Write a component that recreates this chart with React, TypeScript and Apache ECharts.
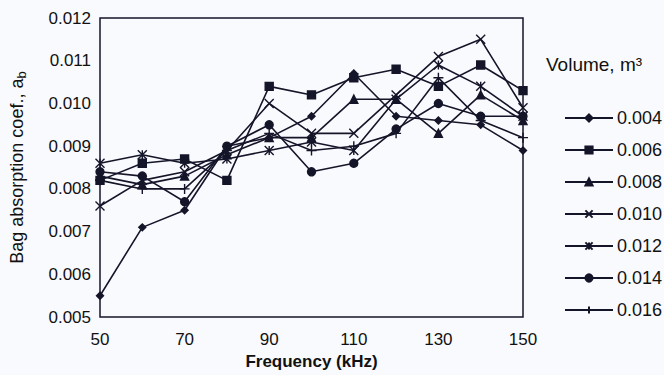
import React, { useEffect, useRef } from "react";
import * as echarts from "echarts";

const frequencies = [50, 60, 70, 80, 90, 100, 110, 120, 130, 140, 150];
const volumes = ["0.004", "0.006", "0.008", "0.010", "0.012", "0.014", "0.016"];
const v004 = [0.0055, 0.0071, 0.0075, 0.009, 0.0092, 0.0097, 0.0107, 0.0097, 0.0096, 0.0095, 0.0089];
const v006 = [0.0082, 0.0086, 0.0087, 0.0082, 0.0104, 0.0102, 0.0106, 0.0108, 0.0104, 0.0109, 0.0103];
const v008 = [0.0083, 0.0081, 0.0083, 0.0088, 0.0092, 0.0092, 0.0101, 0.0101, 0.0093, 0.0102, 0.0096];
const v010 = [0.0076, 0.0082, 0.0084, 0.0089, 0.01, 0.0093, 0.0093, 0.0102, 0.0111, 0.0115, 0.0099];
const v012 = [0.0086, 0.0088, 0.0086, 0.0087, 0.0089, 0.0091, 0.0089, 0.0101, 0.0109, 0.0104, 0.0097];
const v014 = [0.0084, 0.0083, 0.0077, 0.009, 0.0095, 0.0084, 0.0086, 0.0094, 0.01, 0.0097, 0.0097];
const v016 = [0.0082, 0.008, 0.008, 0.0089, 0.0093, 0.0089, 0.009, 0.0093, 0.0106, 0.0096, 0.0092];
const seriesValues = [v004, v006, v008, v010, v012, v014, v016];

const symbols = [
  "diamond",
  "rect",
  "triangle",
  "path://M0,0L10,10M10,0L0,10",
  "path://M0,0L10,10M10,0L0,10M5,0L5,10",
  "circle",
  "path://M5,0L5,10M0,5L10,5",
];
const symbolSizes = [7, 8, 8, 9, 9, 8, 10];

export default function App() {
  const ref = useRef<HTMLDivElement>(null);
  useEffect(() => {
    const chart = echarts.init(ref.current!, null, { renderer: "svg" });
    const ink = "#15152a";
    chart.setOption({
      animation: false,
      backgroundColor: "#f9fafd",
      textStyle: { fontFamily: "Liberation Sans" },
      grid: {
        left: 97,
        right: 141,
        top: 18,
        bottom: 51,
        show: true,
        borderColor: ink,
        borderWidth: 1.5,
        backgroundColor: "transparent",
      },
      legend: {
        orient: "vertical",
        left: 559,
        top: 104,
        itemWidth: 48,
        itemHeight: 9,
        itemGap: 14,
        textStyle: { fontSize: 18, color: "#111", fontFamily: "Liberation Sans", padding: [0, 0, 0, -1] },
        data: volumes,
      },
      graphic: [
        {
          type: "text",
          left: 546,
          top: 55,
          style: {
            text: "Volume, m³",
            fontSize: 19,
            fill: "#111",
            fontFamily: "Liberation Sans",
          },
        },
      ],
      xAxis: {
        type: "value",
        min: 50,
        max: 150,
        interval: 10,
        name: "Frequency (kHz)",
        nameLocation: "middle",
        nameGap: 33,
        nameTextStyle: { fontSize: 17, fontWeight: "bold", color: "#111" },
        axisLine: { show: false },
        axisTick: { show: false },
        splitLine: { show: false },
        axisLabel: {
          fontSize: 17,
          color: "#111",
          margin: 14,
          showMinLabel: true,
          showMaxLabel: true,
          formatter: (v: number) => ((Math.round(v) - 50) % 20 === 0 ? String(Math.round(v)) : ""),
        },
      },
      yAxis: {
        type: "value",
        min: 0.005,
        max: 0.012,
        interval: 0.001,
        name: "Bag absorption coef., a{sub|b}",
        nameLocation: "middle",
        nameGap: 72,
        nameTextStyle: {
          fontSize: 18,
          color: "#111",
          rich: { sub: { fontSize: 13, padding: [9, 0, 0, 0], color: "#111" } },
        },
        axisLine: { show: false },
        axisTick: { show: false },
        splitLine: { show: false },
        axisLabel: {
          fontSize: 17,
          color: "#111",
          margin: 9,
          formatter: (v: number) => v.toFixed(3),
        },
      },
      series: volumes.map((name, i) => ({
        name,
        type: "line",
        data: frequencies.map((f, j) => [f, seriesValues[i][j]]),
        symbol: symbols[i],
        symbolSize: symbolSizes[i],
        showAllSymbol: true,
        lineStyle: { color: ink, width: 1.6 },
        itemStyle: { color: ink, borderColor: ink, borderWidth: 1.4 },
      })),
    });
    return () => chart.dispose();
  }, []);
  return <div ref={ref} style={{ width: 664, height: 375, position: "absolute", left: 0, top: 0 }} />;
}
